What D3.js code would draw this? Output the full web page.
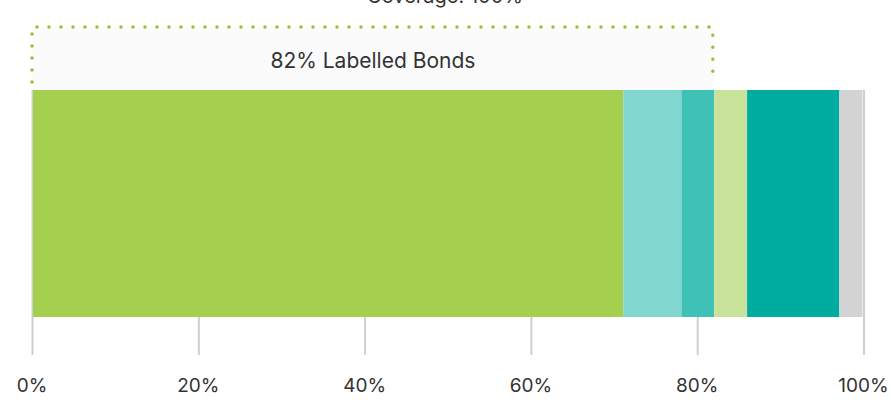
<!DOCTYPE html>
<html>
<head>
<meta charset="utf-8">
<script src="https://cdn.jsdelivr.net/npm/d3@7"></script>
<style>
  body { margin: 0; background: #fff; }
  text { font-family: Inter, "Open Sans", sans-serif; fill: #333; }
</style>
</head>
<body>
<div id="chart"></div>
<script>
var w = 891;
var h = 405;

// share of each segment, %
var segments = ["Green", "Social", "Sustainability", "Sustainability-linked", "Other", "Unclassified"];
var values = [71.1, 7.0, 3.95, 3.95, 11.1, 2.9];
var colors = ["#a5cf4f", "#82d6d0", "#40c1b6", "#c8e399", "#00aca0", "#d3d3d3"];
var ticks = [0, 20, 40, 60, 80, 100];
var labelled = 82;
var title = "Coverage: 100%";
var boxLabel = "82% Labelled Bonds";

var x = d3.scaleLinear().domain([0, 100]).range([32, 863.5]);
var barTop = 90, barBottom = 317;

var svg = d3.select("#chart")
  .append("svg")
  .attr("width", w)
  .attr("height", h);

// stacked data
var acc = 0;
var stack = values.map(function(v, i) {
  var d = { key: segments[i], x0: acc, x1: acc + v, color: colors[i] };
  acc += v;
  return d;
});

// tick lines behind bar
svg.append("g")
  .attr("transform", "translate(0," + barTop + ")")
  .call(d3.axisBottom(x).tickValues(ticks).tickSize(355 - barTop).tickFormat(""))
  .call(function(g) {
    g.select(".domain").remove();
    g.selectAll(".tick line").attr("stroke", "#cfcfcf").attr("stroke-width", 2);
  });

svg.selectAll("rect.seg")
  .data(stack)
  .enter()
  .append("rect")
  .attr("class", "seg")
  .attr("x", function(d) { return x(d.x0) + (d.x0 === 0 ? 1 : 0); })
  .attr("width", function(d) { return x(d.x1) - x(d.x0) - (d.x0 === 0 ? 1 : 0) - (d.x1 >= 99.99 ? 1 : 0); })
  .attr("y", barTop)
  .attr("height", barBottom - barTop)
  .attr("fill", function(d) { return d.color; });

// tick labels
svg.selectAll("text.tick")
  .data(ticks)
  .enter()
  .append("text")
  .attr("class", "tick")
  .attr("x", function(d) { return x(d); })
  .attr("y", 392)
  .attr("text-anchor", "middle")
  .style("font-size", "19px")
  .text(function(d) { return d + "%"; });

// labelled bonds bracket
svg.append("rect")
  .attr("x", x(0))
  .attr("y", 27)
  .attr("width", x(labelled) - x(0))
  .attr("height", barTop - 27)
  .attr("fill", "#fbfbfb");

svg.append("path")
  .attr("d", "M" + x(0) + "," + (barTop - 8) + "V27H" + (x(labelled) - 1) + "V" + (barTop - 8))
  .attr("fill", "none")
  .attr("stroke", "#94c23c")
  .attr("stroke-width", 3.5)
  .attr("stroke-linecap", "round")
  .attr("stroke-dasharray", "0 12");

svg.append("text")
  .attr("x", (x(0) + x(labelled)) / 2)
  .attr("y", 68)
  .attr("text-anchor", "middle")
  .style("font-size", "21px")
  .text(boxLabel);

svg.append("text")
  .attr("x", 445)
  .attr("y", 3)
  .attr("text-anchor", "middle")
  .style("font-size", "20px")
  .text(title);
</script>
</body>
</html>
